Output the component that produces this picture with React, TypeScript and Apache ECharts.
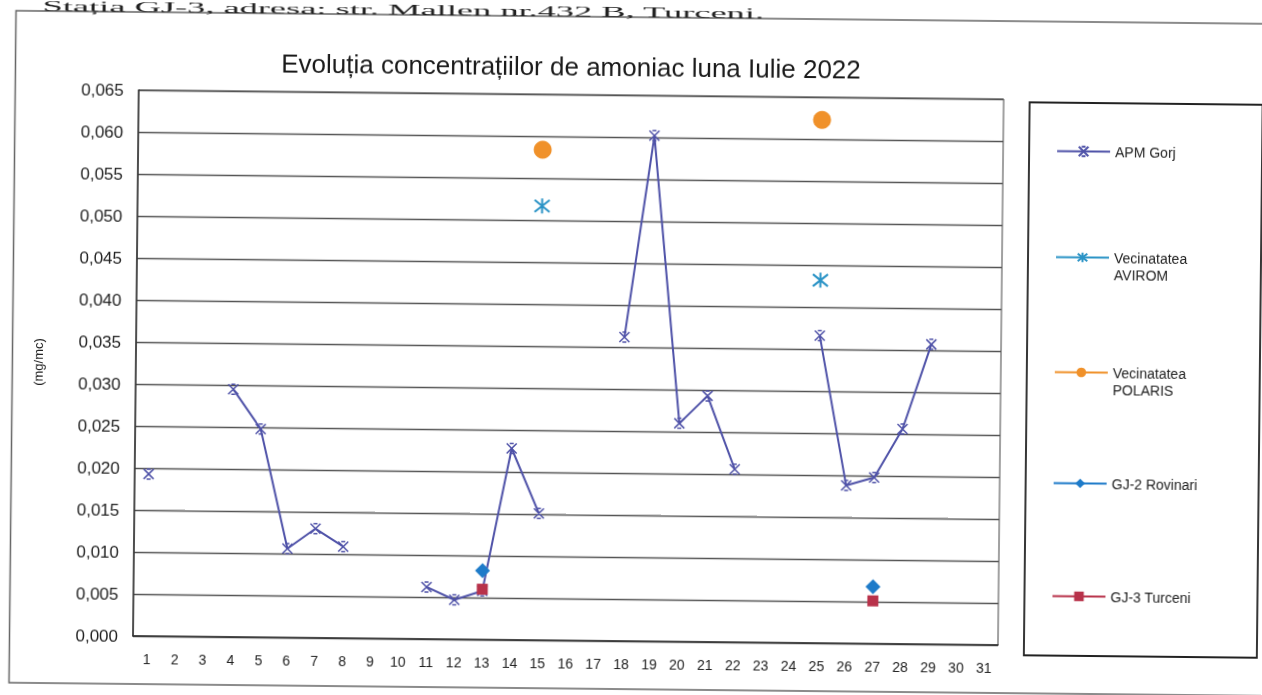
import React, { useEffect, useRef } from "react";
import * as echarts from "echarts";

const days = Array.from({ length: 31 }, (_, i) => String(i + 1));

const apmGorj = [
  0.0193, null, null, 0.0295, 0.0248, 0.0106, 0.013, 0.0109, null, null,
  0.0062, 0.0047, 0.0058, 0.0228, 0.0151, null, null, 0.0362, 0.0602, 0.026,
  0.0293, 0.0206, null, null, 0.0366, 0.0188, 0.0198, 0.0256, 0.0357, null, null,
];
const avirom = [
  null, null, null, null, null, null, null, null, null, null,
  null, null, null, null, 0.0517, null, null, null, null, null,
  null, null, null, null, 0.0432, null, null, null, null, null, null,
];
const polaris = [
  null, null, null, null, null, null, null, null, null, null,
  null, null, null, null, 0.0584, null, null, null, null, null,
  null, null, null, null, 0.0623, null, null, null, null, null, null,
];
const gj2Rovinari = [
  null, null, null, null, null, null, null, null, null, null,
  null, null, 0.0082, null, null, null, null, null, null, null,
  null, null, null, null, null, null, 0.0068, null, null, null, null,
];
const gj3Turceni = [
  null, null, null, null, null, null, null, null, null, null,
  null, null, 0.006, null, null, null, null, null, null, null,
  null, null, null, null, null, null, 0.0051, null, null, null, null,
];

const seriesNames = [
  "APM Gorj",
  "Vecinatatea AVIROM",
  "Vecinatatea POLARIS",
  "GJ-2 Rovinari",
  "GJ-3 Turceni",
];

const FONT = "'Liberation Sans', Arial, sans-serif";

export default function App() {
  const ref = useRef<HTMLDivElement>(null);
  useEffect(() => {
    if (!ref.current) return;
    const chart = echarts.init(ref.current, undefined, { renderer: "svg" });
    const legendTops = [128, 217, 332, 460, 573];
    const legends = seriesNames.map((n, i) => ({
      data: [n],
      left: 1046,
      top: legendTops[i],
      itemWidth: 53,
      itemHeight: 12,
      itemGap: 5,
      formatter: (name: string) =>
        name.startsWith("Vecinatatea") ? " \n" + name.replace(" ", "\n") : name,
      textStyle: {
        fontFamily: FONT,
        fontSize: 14,
        color: "#222",
        lineHeight: 17,
      },
    }));
    chart.setOption({
      animation: false,
      backgroundColor: "#fff",
      title: {
        text: "Evoluția concentrațiilor de amoniac luna Iulie 2022",
        left: 560,
        textAlign: "center",
        top: 44,
        textStyle: { fontFamily: FONT, fontSize: 26, fontWeight: "normal", color: "#1a1a1a" },
      },
      legend: legends,
      grid: {
        left: 133,
        top: 90,
        width: 865,
        height: 546,
        show: true,
        borderColor: "#444",
        borderWidth: 1,
      },
      xAxis: {
        type: "category",
        data: days,
        boundaryGap: true,
        axisLine: { lineStyle: { color: "#333", width: 1.5 } },
        axisTick: { show: false },
        axisLabel: { fontFamily: FONT, fontSize: 14, color: "#222", margin: 16, interval: 0 },
      },
      yAxis: {
        type: "value",
        min: 0,
        max: 0.065,
        interval: 0.005,
        name: "(mg/mc)",
        nameLocation: "middle",
        nameRotate: 90,
        nameGap: 91,
        nameTextStyle: { fontFamily: FONT, fontSize: 13, color: "#222" },
        axisLine: { show: true, lineStyle: { color: "#333", width: 1.5 } },
        axisTick: { show: false },
        axisLabel: {
          fontFamily: FONT,
          fontSize: 17,
          color: "#222",
          margin: 15,
          formatter: (v: number) => v.toFixed(3).replace(".", ","),
        },
        splitLine: { lineStyle: { color: "#555", width: 1.4 } },
      },
      graphic: [
        {
          type: "rect",
          shape: { x: 9.5, y: 12, width: 1300, height: 672 },
          style: { fill: "none", stroke: "#666", lineWidth: 1.5 },
          silent: true,
        },
        {
          type: "rect",
          shape: { x: 1024, y: 93, width: 233, height: 553 },
          style: { fill: "none", stroke: "#222", lineWidth: 1.8 },
          silent: true,
        },
        {
          type: "text",
          x: 36,
          y: 0,
          scaleX: 2.6,
          style: {
            text: "Stația GJ-3, adresa: str. Mallen nr.432 B, Turceni.",
            font: "14px 'Liberation Serif', 'Times New Roman', serif",
            fill: "#222",
            verticalAlign: "top",
          },
          silent: true,
        },
      ],
      series: [
        {
          name: seriesNames[0],
          type: "line",
          data: apmGorj,
          connectNulls: false,
          symbol: "path://M0,0L10,10M10,0L0,10M3,0L7,0M3,10L7,10",
          symbolSize: 10,
          showAllSymbol: true,
          lineStyle: { color: "#4f52a8", width: 2 },
          itemStyle: { color: "#4f52a8", borderColor: "#4f52a8", borderWidth: 1.5 },
        },
        {
          name: seriesNames[1],
          type: "line",
          data: avirom,
          connectNulls: false,
          symbol: "path://M0,1L10,9M10,1L0,9M5,0L5,10",
          symbolSize: 15,
          lineStyle: { color: "#2a93c6", width: 4 },
          itemStyle: { color: "#2a93c6", borderColor: "#2a93c6", borderWidth: 2 },
        },
        {
          name: seriesNames[2],
          type: "line",
          data: polaris,
          connectNulls: false,
          symbol: "circle",
          symbolSize: 18,
          lineStyle: { color: "#f0912a", width: 4 },
          itemStyle: { color: "#f0912a", borderWidth: 0 },
        },
        {
          name: seriesNames[3],
          type: "line",
          data: gj2Rovinari,
          connectNulls: false,
          symbol: "diamond",
          symbolSize: 15,
          lineStyle: { color: "#1e7bc9", width: 4 },
          itemStyle: { color: "#1e7bc9", borderWidth: 0 },
        },
        {
          name: seriesNames[4],
          type: "line",
          data: gj3Turceni,
          connectNulls: false,
          symbol: "rect",
          symbolSize: 11,
          z: 3,
          lineStyle: { color: "#b8324a", width: 4 },
          itemStyle: { color: "#b8324a", borderWidth: 0 },
        },
      ],
    });
    return () => chart.dispose();
  }, []);
  return (
    <div
      ref={ref}
      style={{
        position: "fixed",
        left: 0,
        top: 0,
        width: 1262,
        height: 695,
        transform: "rotate(0.6deg)",
        transformOrigin: "135px 636px",
      }}
    />
  );
}
